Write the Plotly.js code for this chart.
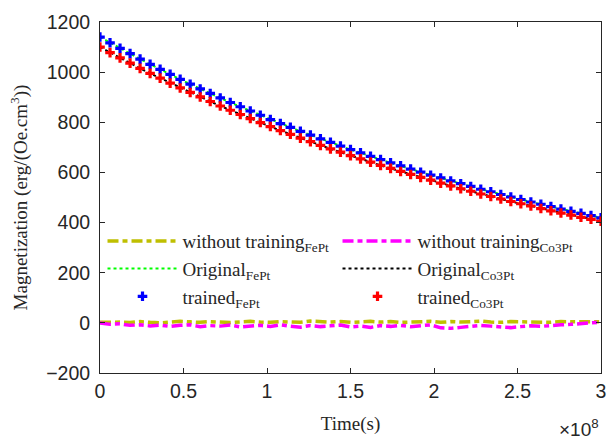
<!DOCTYPE html>
<html>
<head>
<meta charset="utf-8">
<script src="https://cdn.plot.ly/plotly-3.0.1.min.js"></script>
<style>html,body{margin:0;padding:0;background:#fff;}#chart{width:609px;height:439px;}</style>
</head>
<body>
<div id="chart"></div>
<script>
// Time in seconds (one sample every 6e6 s)
const time = [0,6e6,12e6,18e6,24e6,30e6,36e6,42e6,48e6,54e6,60e6,66e6,72e6,78e6,84e6,90e6,96e6,102e6,108e6,114e6,120e6,126e6,132e6,138e6,144e6,150e6,156e6,162e6,168e6,174e6,180e6,186e6,192e6,198e6,204e6,210e6,216e6,222e6,228e6,234e6,240e6,246e6,252e6,258e6,264e6,270e6,276e6,282e6,288e6,294e6,300e6];

const withoutFePt = [2,4,3,1,5,2,0,3,6,4,2,5,3,1,4,6,3,2,5,4,2,7,4,3,5,2,4,6,3,5,2,4,3,6,2,5,3,4,7,3,2,5,4,6,3,2,5,4,3,5,4];
const withoutCo3Pt = [0,-6,-4,-10,-8,-12,-9,-14,-10,-8,-15,-11,-13,-9,-16,-12,-10,-14,-8,-13,-17,-11,-15,-12,-9,-16,-13,-18,-11,-14,-10,-15,-12,-8,-20,-22,-18,-14,-10,-13,-16,-19,-15,-12,-14,-10,-8,-6,-4,0,3];

const originalFePt = [1140,1117,1095,1074,1052,1031,1011,991,971,952,933,915,897,879,862,845,828,811,795,780,764,749,734,720,705,691,678,664,651,638,626,613,601,589,578,566,555,544,533,523,512,502,492,482,473,464,454,445,437,428,419];
const originalCo3Pt = [1100,1078,1057,1036,1015,995,976,956,937,919,901,883,865,848,831,815,799,783,767,752,737,723,708,694,681,667,654,641,628,616,604,592,580,569,557,546,535,525,514,504,494,484,475,466,456,447,438,430,421,413,405];
const trainedFePt = [1140,1117,1095,1074,1052,1031,1011,991,971,952,933,915,897,879,862,845,828,811,795,780,764,749,734,720,705,691,678,664,651,638,626,613,601,589,578,566,555,544,533,523,512,502,492,482,473,464,454,445,437,428,419];
const trainedCo3Pt = [1100,1078,1057,1036,1015,995,976,956,937,919,901,883,865,848,831,815,799,783,767,752,737,723,708,694,681,667,654,641,628,616,604,592,580,569,557,546,535,525,514,504,494,484,475,466,456,447,438,430,421,413,405];

const xTickVals = [0,0.5e8,1e8,1.5e8,2e8,2.5e8,3e8];
const xTickText = ['0','0.5','1','1.5','2','2.5','3'];
const yTickVals = [-200,0,200,400,600,800,1000,1200];

const names = {
  woF: 'without training<sub>FePt</sub>',
  woC: 'without training<sub>Co3Pt</sub>',
  oF: 'Original<sub>FePt</sub>',
  oC: 'Original<sub>Co3Pt</sub>',
  tF: 'trained<sub>FePt</sub>',
  tC: 'trained<sub>Co3Pt</sub>'
};

const dashDot = '11px,4px,5px,4px';
const traces = [
  {x: time, y: withoutFePt, name: names.woF, mode: 'lines', line: {color: '#bfbf00', width: 3.5, dash: dashDot}},
  {x: time, y: withoutCo3Pt, name: names.woC, mode: 'lines', line: {color: '#ff00ff', width: 3.5, dash: dashDot}},
  {x: time, y: originalFePt, name: names.oF, mode: 'lines', line: {color: '#00ff00', width: 2, dash: 'dot'}},
  {x: time, y: originalCo3Pt, name: names.oC, mode: 'lines', line: {color: '#000000', width: 2, dash: 'dot'}},
  {x: time, y: trainedFePt, name: names.tF, mode: 'markers', marker: {color: '#0000ff', symbol: 'cross', size: 8, line: {width: 0}}},
  {x: time, y: trainedCo3Pt, name: names.tC, mode: 'markers', marker: {color: '#ff0000', symbol: 'cross', size: 8, line: {width: 0}}}
];

const serif = 'Liberation Serif, Times New Roman, serif';
const sans = 'Liberation Sans, Arial, sans-serif';

const layout = {
  width: 609, height: 439,
  margin: {l: 100, r: 8, t: 22, b: 66},
  paper_bgcolor: '#fff', plot_bgcolor: '#fff',
  showlegend: true,
  legend: {
    orientation: 'h', x: 0.005, y: 0.43, xanchor: 'left', yanchor: 'top',
    entrywidth: 150, itemwidth: 70, bgcolor: 'rgba(0,0,0,0)',
    font: {family: serif, size: 19, color: '#262626'}, tracegroupgap: 0
  },
  xaxis: {
    range: [0, 3e8], tickvals: xTickVals, ticktext: xTickText,
    ticks: 'inside', ticklen: 5, tickcolor: '#262626', showgrid: false, zeroline: false,
    showline: true, linecolor: '#262626', linewidth: 1, mirror: 'ticks',
    tickfont: {family: sans, size: 19.5, color: '#262626'}, ticklabelstandoff: 1,
    title: {text: 'Time(s)', font: {family: serif, size: 19, color: '#262626'}, standoff: 15}
  },
  yaxis: {
    range: [-200, 1200], tickvals: yTickVals,
    ticks: 'inside', ticklen: 5, tickcolor: '#262626', showgrid: false, zeroline: false,
    showline: true, linecolor: '#262626', linewidth: 1, mirror: 'ticks',
    tickfont: {family: sans, size: 19.5, color: '#262626'}, ticklabelstandoff: 5,
    title: {text: 'Magnetization (erg/(Oe.cm<sup>3</sup>))', font: {family: serif, size: 19, color: '#262626'}, standoff: 13}
  },
  annotations: [{
    text: '\u00d710<sup>8</sup>', xref: 'paper', yref: 'paper', x: 1.0, y: -0.197,
    xanchor: 'right', yanchor: 'bottom', showarrow: false,
    font: {family: sans, size: 19, color: '#262626'}
  }]
};

Plotly.newPlot('chart', traces, layout, {displayModeBar: false, staticPlot: true});
</script>
</body>
</html>
